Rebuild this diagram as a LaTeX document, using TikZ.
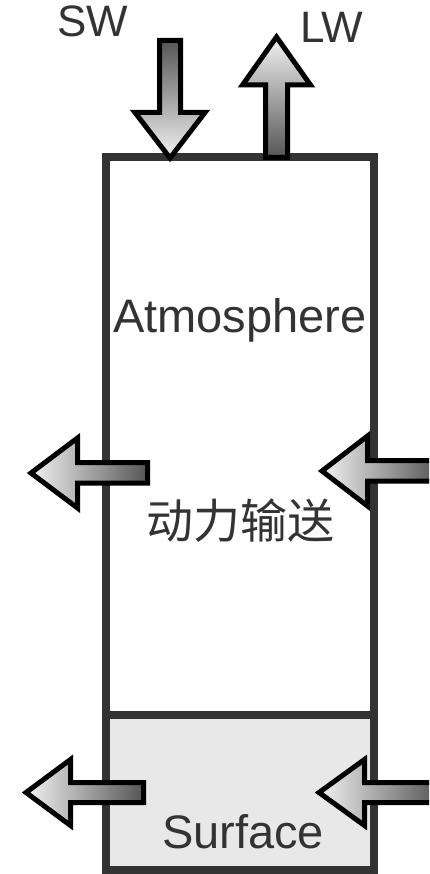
\documentclass[tikz,border=0pt]{standalone}
\usepackage{fontspec}
\setmainfont{Liberation Sans}
\newfontfamily\cjk{Noto Sans CJK SC}
\definecolor{boxline}{HTML}{333333}
\definecolor{txt}{HTML}{333333}
\definecolor{surf}{HTML}{E8E8E8}
\definecolor{tailc}{HTML}{555555}
\definecolor{tipc}{HTML}{F2F2F2}
\tikzset{
  layerbox/.style={draw=boxline, line width=8pt, inner sep=0pt, outer sep=0pt},
  fluxarrow/.style={draw=black, line width=5pt, line join=miter, miter limit=10},
  bigtext/.style={text=txt, inner sep=0pt, anchor=base, font=\fontsize{47}{56}\selectfont},
  labeltext/.style={text=txt, inner sep=0pt, anchor=base, font=\fontsize{44}{52}\selectfont}
}
\begin{document}
\begin{tikzpicture}[x=1pt,y=-1pt]
\clip (0,0) rectangle (429,874);
\fill[white] (0,0) rectangle (429,874);
% layer boxes
\node[layerbox, fill=white, minimum width=268pt, minimum height=557.5pt] (atm) at (240,436.25) {};
\node[layerbox, fill=surf, minimum width=268pt, minimum height=155pt] (sfc) at (240,792.5) {};
% texts
\node[bigtext] (atmtxt) at (240,332) {Atmosphere};
\node[bigtext, font=\cjk\fontsize{47}{56}\selectfont] (dyn) at (240,538) {动力输送};
\node[bigtext] (sfctxt) at (243,848) {Surface};
\node[labeltext] (sw) at (93,37) {SW};
\node[labeltext] (lw) at (332,43) {LW};
% SW down arrow
\shadedraw[fluxarrow, top color=tailc, bottom color=tipc]
  (159.5,40.5) -- (180.5,40.5) -- (180.5,112.5) -- (205,112.5) -- (170,158)
  -- (135,112.5) -- (159.5,112.5) -- cycle;
% LW up arrow
\shadedraw[fluxarrow, top color=tipc, bottom color=tailc]
  (265.5,157.5) -- (287.5,157.5) -- (287.5,85) -- (310.5,85) -- (276.5,37)
  -- (242.5,85) -- (265.5,85) -- cycle;
% atmosphere left arrow
\shadedraw[fluxarrow, left color=tipc, right color=tailc]
  (147.5,462.5) -- (147.5,483) -- (77.5,483) -- (77.5,508) -- (31,473)
  -- (77.5,438) -- (77.5,462.5) -- cycle;
% atmosphere right arrow
\shadedraw[fluxarrow, left color=tipc, right color=tailc]
  (440,460.5) -- (440,481) -- (367.5,481) -- (367.5,506) -- (322,471)
  -- (367.5,436) -- (367.5,460.5) -- cycle;
% surface left arrow
\shadedraw[fluxarrow, left color=tipc, right color=tailc]
  (143.5,782.5) -- (143.5,802.5) -- (70.5,802.5) -- (70.5,825.5) -- (26,792.5)
  -- (70.5,759.5) -- (70.5,782.5) -- cycle;
% surface right arrow
\shadedraw[fluxarrow, left color=tipc, right color=tailc]
  (440,782.5) -- (440,802.5) -- (364.5,802.5) -- (364.5,825.5) -- (319,792.5)
  -- (364.5,759.5) -- (364.5,782.5) -- cycle;
\end{tikzpicture}
\end{document}
